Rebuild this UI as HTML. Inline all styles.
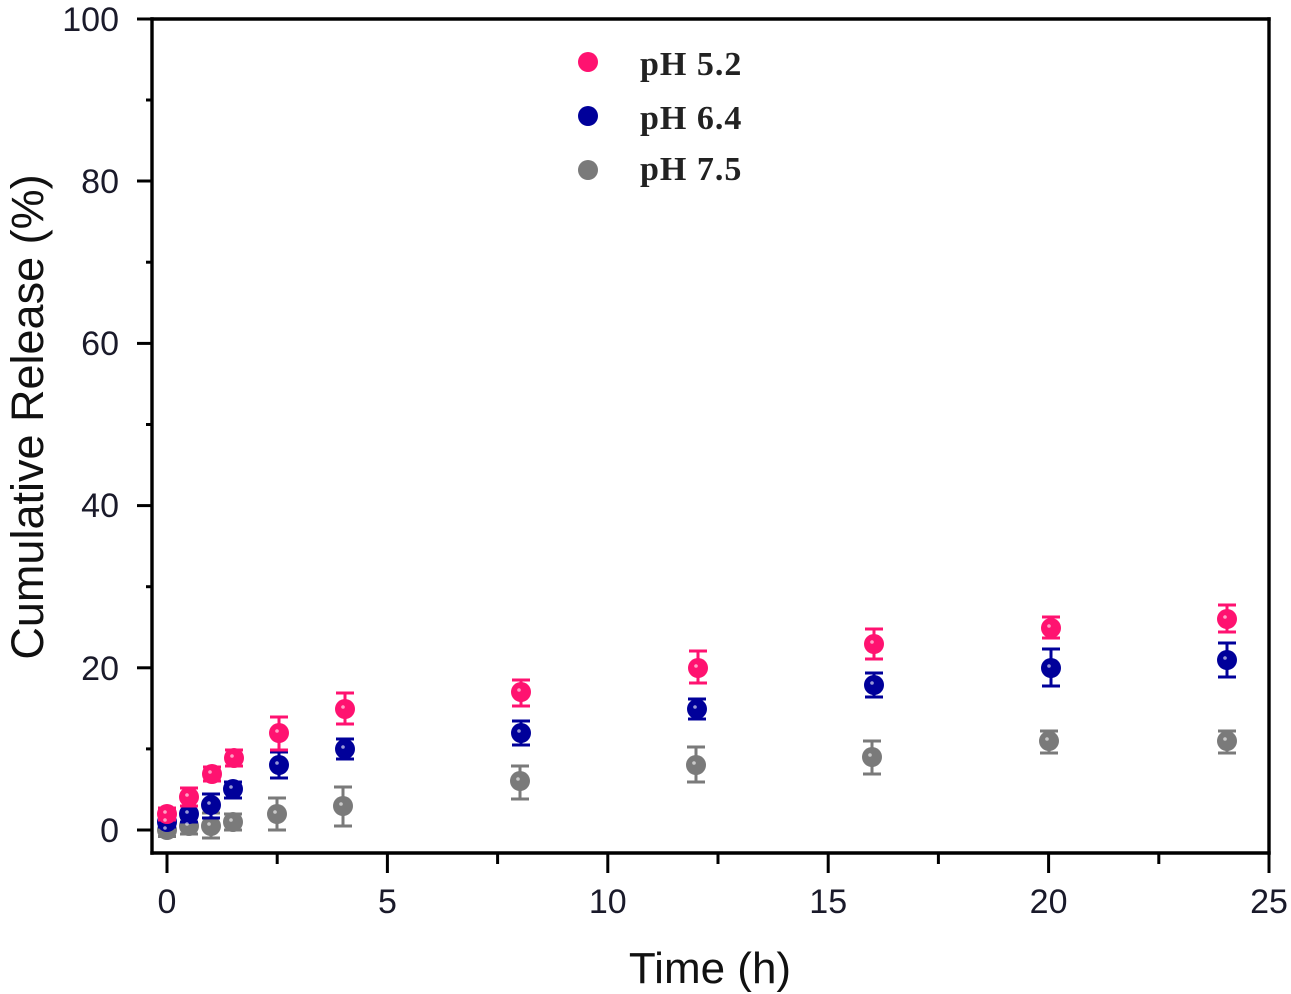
<!DOCTYPE html>
<html>
<head>
<meta charset="utf-8">
<style>
  html, body { margin: 0; padding: 0; background: #ffffff; }
  svg { display: block; }
</style>
</head>
<body>
<svg width="1291" height="994" viewBox="0 0 1291 994" xmlns="http://www.w3.org/2000/svg">
  <rect width="1291" height="994" fill="#ffffff"/>

  <!-- Axes frame -->
  <g stroke="#000" stroke-width="3.4" fill="none" stroke-linecap="square">
    <line x1="152" y1="19" x2="1269" y2="19"/>
    <line x1="152" y1="19" x2="152" y2="853"/>
    <line x1="152" y1="853" x2="1269" y2="853"/>
    <line x1="1269" y1="19" x2="1269" y2="853"/>
  </g>

  <!-- Y ticks -->
  <g stroke="#000" stroke-width="3">
    <line x1="137" y1="19" x2="152" y2="19"/>
    <line x1="137" y1="181" x2="152" y2="181"/>
    <line x1="137" y1="343.4" x2="152" y2="343.4"/>
    <line x1="137" y1="505.6" x2="152" y2="505.6"/>
    <line x1="137" y1="667.8" x2="152" y2="667.8"/>
    <line x1="137" y1="830" x2="152" y2="830"/>
    <line x1="146" y1="100" x2="152" y2="100"/>
    <line x1="146" y1="262.2" x2="152" y2="262.2"/>
    <line x1="146" y1="424.5" x2="152" y2="424.5"/>
    <line x1="146" y1="586.7" x2="152" y2="586.7"/>
    <line x1="146" y1="748.9" x2="152" y2="748.9"/>
  </g>

  <!-- X ticks -->
  <g stroke="#000" stroke-width="3">
    <line x1="167" y1="853" x2="167" y2="873"/>
    <line x1="387.4" y1="853" x2="387.4" y2="873"/>
    <line x1="607.8" y1="853" x2="607.8" y2="873"/>
    <line x1="828.2" y1="853" x2="828.2" y2="873"/>
    <line x1="1048.6" y1="853" x2="1048.6" y2="873"/>
    <line x1="1269" y1="853" x2="1269" y2="873"/>
    <line x1="277.2" y1="853" x2="277.2" y2="864"/>
    <line x1="497.6" y1="853" x2="497.6" y2="864"/>
    <line x1="718" y1="853" x2="718" y2="864"/>
    <line x1="938.4" y1="853" x2="938.4" y2="864"/>
    <line x1="1158.8" y1="853" x2="1158.8" y2="864"/>
  </g>

  <!-- Y tick labels -->
  <g font-family="'Liberation Sans', Arial, sans-serif" font-size="34" fill="#1a1a2a" text-anchor="end">
    <text x="119" y="31">100</text>
    <text x="119" y="193">80</text>
    <text x="119" y="355">60</text>
    <text x="119" y="517">40</text>
    <text x="119" y="680">20</text>
    <text x="119" y="842">0</text>
  </g>

  <!-- X tick labels -->
  <g font-family="'Liberation Sans', Arial, sans-serif" font-size="34" fill="#1a1a2a" text-anchor="middle">
    <text x="167" y="913">0</text>
    <text x="387.4" y="913">5</text>
    <text x="607.8" y="913">10</text>
    <text x="828.2" y="913">15</text>
    <text x="1048.6" y="913">20</text>
    <text x="1269" y="913">25</text>
  </g>

  <!-- Axis titles -->
  <text x="710" y="983" font-family="'Liberation Sans', Arial, sans-serif" font-size="44" fill="#111" text-anchor="middle">Time (h)</text>
  <text transform="translate(43,417) rotate(-90)" font-family="'Liberation Sans', Arial, sans-serif" font-size="45" fill="#111" text-anchor="middle">Cumulative Release (%)</text>

  <!-- Legend -->
  <circle cx="588" cy="62" r="10" fill="#ff1270"/>
  <circle cx="588" cy="116" r="10" fill="#00009a"/>
  <circle cx="588" cy="170" r="10" fill="#7a7a7a"/>
  <g font-family="'Liberation Serif', 'Times New Roman', serif" font-size="34" font-weight="bold" fill="#222" letter-spacing="1">
    <text x="640" y="75">pH 5.2</text>
    <text x="640" y="129">pH 6.4</text>
    <text x="640" y="180">pH 7.5</text>
  </g>

  <!-- pH 7.5 (grey) -->
  <g stroke="#7a7a7a" stroke-width="3" fill="#7a7a7a">
    <g><line x1="167" y1="823.5" x2="167" y2="836.5"/><line x1="158" y1="823.5" x2="176" y2="823.5"/><line x1="158" y1="836.5" x2="176" y2="836.5"/><circle cx="167" cy="830" r="10" stroke="none"/></g>
    <g><line x1="189" y1="818" x2="189" y2="834"/><line x1="180" y1="818" x2="198" y2="818"/><line x1="180" y1="834" x2="198" y2="834"/><circle cx="189" cy="826" r="10" stroke="none"/></g>
    <g><line x1="211" y1="813" x2="211" y2="838"/><line x1="202" y1="813" x2="220" y2="813"/><line x1="202" y1="838" x2="220" y2="838"/><circle cx="211" cy="826" r="10" stroke="none"/></g>
    <g><line x1="233" y1="814" x2="233" y2="830"/><line x1="224" y1="814" x2="242" y2="814"/><line x1="224" y1="830" x2="242" y2="830"/><circle cx="233" cy="822" r="10" stroke="none"/></g>
    <g><line x1="277" y1="798" x2="277" y2="830"/><line x1="268" y1="798" x2="286" y2="798"/><line x1="268" y1="830" x2="286" y2="830"/><circle cx="277" cy="814" r="10" stroke="none"/></g>
    <g><line x1="343" y1="787" x2="343" y2="826"/><line x1="334" y1="787" x2="352" y2="787"/><line x1="334" y1="826" x2="352" y2="826"/><circle cx="343" cy="806" r="10" stroke="none"/></g>
    <g><line x1="520" y1="766" x2="520" y2="799"/><line x1="511" y1="766" x2="529" y2="766"/><line x1="511" y1="799" x2="529" y2="799"/><circle cx="520" cy="781" r="10" stroke="none"/></g>
    <g><line x1="696" y1="747" x2="696" y2="782"/><line x1="687" y1="747" x2="705" y2="747"/><line x1="687" y1="782" x2="705" y2="782"/><circle cx="696" cy="765" r="10" stroke="none"/></g>
    <g><line x1="872" y1="741" x2="872" y2="774"/><line x1="863" y1="741" x2="881" y2="741"/><line x1="863" y1="774" x2="881" y2="774"/><circle cx="872" cy="757" r="10" stroke="none"/></g>
    <g><line x1="1049" y1="731" x2="1049" y2="753"/><line x1="1040" y1="731" x2="1058" y2="731"/><line x1="1040" y1="753" x2="1058" y2="753"/><circle cx="1049" cy="741" r="10" stroke="none"/></g>
    <g><line x1="1227" y1="731" x2="1227" y2="753"/><line x1="1218" y1="731" x2="1236" y2="731"/><line x1="1218" y1="753" x2="1236" y2="753"/><circle cx="1227" cy="741" r="10" stroke="none"/></g>
  </g>

  <!-- pH 6.4 (blue) -->
  <g stroke="#00009a" stroke-width="3" fill="#00009a">
    <g><line x1="167" y1="817" x2="167" y2="827"/><line x1="158" y1="817" x2="176" y2="817"/><line x1="158" y1="827" x2="176" y2="827"/><circle cx="167" cy="822" r="10" stroke="none"/></g>
    <g><line x1="189" y1="806" x2="189" y2="822"/><line x1="180" y1="806" x2="198" y2="806"/><line x1="180" y1="822" x2="198" y2="822"/><circle cx="189" cy="814" r="10" stroke="none"/></g>
    <g><line x1="211" y1="794" x2="211" y2="818"/><line x1="202" y1="794" x2="220" y2="794"/><line x1="202" y1="818" x2="220" y2="818"/><circle cx="211" cy="805" r="10" stroke="none"/></g>
    <g><line x1="233" y1="782" x2="233" y2="798"/><line x1="224" y1="782" x2="242" y2="782"/><line x1="224" y1="798" x2="242" y2="798"/><circle cx="233" cy="789" r="10" stroke="none"/></g>
    <g><line x1="279" y1="752" x2="279" y2="778"/><line x1="270" y1="752" x2="288" y2="752"/><line x1="270" y1="778" x2="288" y2="778"/><circle cx="279" cy="765" r="10" stroke="none"/></g>
    <g><line x1="345" y1="739" x2="345" y2="759"/><line x1="336" y1="739" x2="354" y2="739"/><line x1="336" y1="759" x2="354" y2="759"/><circle cx="345" cy="749" r="10" stroke="none"/></g>
    <g><line x1="521" y1="721" x2="521" y2="745"/><line x1="512" y1="721" x2="530" y2="721"/><line x1="512" y1="745" x2="530" y2="745"/><circle cx="521" cy="733" r="10" stroke="none"/></g>
    <g><line x1="697" y1="699" x2="697" y2="719"/><line x1="688" y1="699" x2="706" y2="699"/><line x1="688" y1="719" x2="706" y2="719"/><circle cx="697" cy="709" r="10" stroke="none"/></g>
    <g><line x1="874" y1="673" x2="874" y2="697"/><line x1="865" y1="673" x2="883" y2="673"/><line x1="865" y1="697" x2="883" y2="697"/><circle cx="874" cy="685" r="10" stroke="none"/></g>
    <g><line x1="1051" y1="649" x2="1051" y2="686"/><line x1="1042" y1="649" x2="1060" y2="649"/><line x1="1042" y1="686" x2="1060" y2="686"/><circle cx="1051" cy="668" r="10" stroke="none"/></g>
    <g><line x1="1227" y1="643" x2="1227" y2="677"/><line x1="1218" y1="643" x2="1236" y2="643"/><line x1="1218" y1="677" x2="1236" y2="677"/><circle cx="1227" cy="660" r="10" stroke="none"/></g>
  </g>

  <!-- pH 5.2 (pink) -->
  <g stroke="#ff1270" stroke-width="3" fill="#ff1270">
    <g><line x1="167" y1="808" x2="167" y2="820"/><line x1="158" y1="808" x2="176" y2="808"/><line x1="158" y1="820" x2="176" y2="820"/><circle cx="167" cy="814" r="10" stroke="none"/></g>
    <g><line x1="189" y1="788" x2="189" y2="806"/><line x1="180" y1="788" x2="198" y2="788"/><line x1="180" y1="806" x2="198" y2="806"/><circle cx="189" cy="797" r="10" stroke="none"/></g>
    <g><line x1="212" y1="767" x2="212" y2="781"/><line x1="203" y1="767" x2="221" y2="767"/><line x1="203" y1="781" x2="221" y2="781"/><circle cx="212" cy="774" r="10" stroke="none"/></g>
    <g><line x1="234" y1="750" x2="234" y2="766"/><line x1="225" y1="750" x2="243" y2="750"/><line x1="225" y1="766" x2="243" y2="766"/><circle cx="234" cy="758" r="10" stroke="none"/></g>
    <g><line x1="279" y1="717" x2="279" y2="750"/><line x1="270" y1="717" x2="288" y2="717"/><line x1="270" y1="750" x2="288" y2="750"/><circle cx="279" cy="733" r="10" stroke="none"/></g>
    <g><line x1="345" y1="693" x2="345" y2="724"/><line x1="336" y1="693" x2="354" y2="693"/><line x1="336" y1="724" x2="354" y2="724"/><circle cx="345" cy="709" r="10" stroke="none"/></g>
    <g><line x1="521" y1="680" x2="521" y2="706"/><line x1="512" y1="680" x2="530" y2="680"/><line x1="512" y1="706" x2="530" y2="706"/><circle cx="521" cy="692" r="10" stroke="none"/></g>
    <g><line x1="698" y1="651" x2="698" y2="683"/><line x1="689" y1="651" x2="707" y2="651"/><line x1="689" y1="683" x2="707" y2="683"/><circle cx="698" cy="668" r="10" stroke="none"/></g>
    <g><line x1="874" y1="629" x2="874" y2="659"/><line x1="865" y1="629" x2="883" y2="629"/><line x1="865" y1="659" x2="883" y2="659"/><circle cx="874" cy="644" r="10" stroke="none"/></g>
    <g><line x1="1051" y1="617" x2="1051" y2="638"/><line x1="1042" y1="617" x2="1060" y2="617"/><line x1="1042" y1="638" x2="1060" y2="638"/><circle cx="1051" cy="628" r="10" stroke="none"/></g>
    <g><line x1="1227" y1="605" x2="1227" y2="632"/><line x1="1218" y1="605" x2="1236" y2="605"/><line x1="1218" y1="632" x2="1236" y2="632"/><circle cx="1227" cy="619" r="10" stroke="none"/></g>
  </g>

  <!-- highlight dots -->
  <g fill="#ffffff" opacity="0.6">
    <circle cx="165" cy="828" r="1.8"/><circle cx="187" cy="824" r="1.8"/><circle cx="209" cy="824" r="1.8"/><circle cx="231" cy="820" r="1.8"/><circle cx="275" cy="812" r="1.8"/><circle cx="341" cy="804" r="1.8"/><circle cx="518" cy="779" r="1.8"/><circle cx="694" cy="763" r="1.8"/><circle cx="870" cy="755" r="1.8"/><circle cx="1047" cy="739" r="1.8"/><circle cx="1225" cy="739" r="1.8"/>
    <circle cx="165" cy="820" r="1.8"/><circle cx="187" cy="812" r="1.8"/><circle cx="209" cy="803" r="1.8"/><circle cx="231" cy="787" r="1.8"/><circle cx="277" cy="763" r="1.8"/><circle cx="343" cy="747" r="1.8"/><circle cx="519" cy="731" r="1.8"/><circle cx="695" cy="707" r="1.8"/><circle cx="872" cy="683" r="1.8"/><circle cx="1049" cy="666" r="1.8"/><circle cx="1225" cy="658" r="1.8"/>
    <circle cx="165" cy="812" r="1.8"/><circle cx="187" cy="795" r="1.8"/><circle cx="210" cy="772" r="1.8"/><circle cx="232" cy="756" r="1.8"/><circle cx="277" cy="731" r="1.8"/><circle cx="343" cy="707" r="1.8"/><circle cx="519" cy="690" r="1.8"/><circle cx="696" cy="666" r="1.8"/><circle cx="872" cy="642" r="1.8"/><circle cx="1049" cy="626" r="1.8"/><circle cx="1225" cy="617" r="1.8"/>
  </g>
</svg>
</body>
</html>
